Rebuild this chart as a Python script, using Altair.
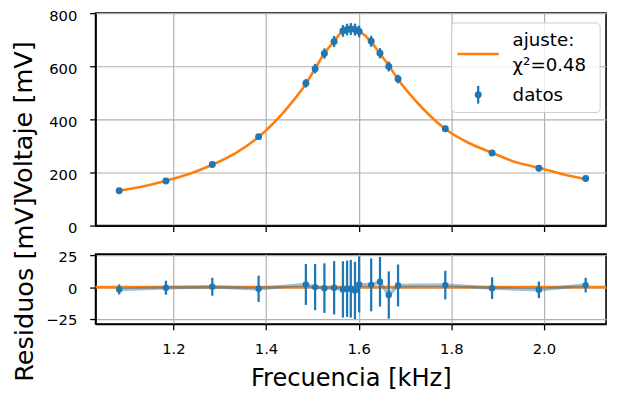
import altair as alt
import pandas as pd

# ---- data ----
freq = [1.083, 1.184, 1.284, 1.384, 1.486, 1.506, 1.526, 1.547, 1.566, 1.575,
        1.583, 1.592, 1.601, 1.627, 1.646, 1.665, 1.685, 1.787, 1.888, 1.989, 2.090]
voltage = [131, 168, 230, 335, 536, 591, 648, 693, 733, 738,
           740, 738, 731, 694, 649, 599, 552, 365, 273, 216, 177]
error = [3.9, 5.5, 7.0, 10.3, 16.0, 18.0, 19.4, 20.8, 22.0, 22.0,
         22.5, 22.4, 21.9, 20.7, 19.4, 18.5, 16.4, 11.2, 8.5, 6.5, 5.7]
residual = [-1.8, -0.5, 0.3, -1.3, 2.1, 0.0, -0.8, -0.5, -1.8, -1.3,
            -1.3, -2.6, 2.1, 1.8, 4.2, -6.2, 1.3, 1.6, -0.8, -2.1, 1.6]

fit_freq = [1.083, 1.131, 1.184, 1.237, 1.284, 1.336, 1.384, 1.442, 1.486, 1.506,
            1.526, 1.547, 1.566, 1.575, 1.583, 1.592, 1.601, 1.627, 1.646, 1.665,
            1.685, 1.739, 1.787, 1.838, 1.888, 1.941, 1.989, 2.043, 2.090]
fit_volt = [132, 146, 169, 196, 229, 275, 334, 435, 534, 591,
            649, 694, 733, 739, 741, 740, 732, 692, 647, 603,
            551, 440, 364, 311, 274, 238, 218, 192, 175]

x_ticks = [1.2, 1.4, 1.6, 1.8, 2.0]
y_ticks_top = [0, 200, 400, 600, 800]
y_ticks_res = [-25, 0, 25]
legend_fit = "ajuste:"
legend_chi = "χ²=0.48"
legend_data = "datos"

BLUE = "#1f77b4"
ORANGE = "#ff7f0e"
FONT = "DejaVu Sans"

df = pd.DataFrame({"f": freq, "v": voltage, "err": error, "res": residual})
fit_df = pd.DataFrame({"f": fit_freq, "v": fit_volt})
one = pd.DataFrame({"k": [0]})
zero_df = pd.DataFrame({"z": [0]})

W = 519
xscale = alt.Scale(domain=[1.032, 2.134], nice=False, zero=False)

x_top = alt.X("f:Q", scale=xscale,
              axis=alt.Axis(values=x_ticks, labels=False, title=None, tickSize=6))
y_top_scale = alt.Scale(domain=[0, 800], nice=False)
y_top_axis = alt.Axis(values=y_ticks_top, format="d", title="Voltaje [mV]",
                      titleFontSize=26, titlePadding=12.5, labelFontSize=15,
                      labelPadding=13, tickSize=6, labelOverlap=False, labelOffset=2)

fit_line = alt.Chart(fit_df).mark_line(color=ORANGE, strokeWidth=2.6, interpolate="monotone").encode(
    x=x_top, y=alt.Y("v:Q", scale=y_top_scale, axis=y_top_axis))

bars_top = alt.Chart(df).transform_calculate(
    lo="datum.v - datum.err", hi="datum.v + datum.err"
).mark_rule(color=BLUE, strokeWidth=2.3).encode(
    x=x_top, y=alt.Y("lo:Q", scale=y_top_scale, axis=y_top_axis), y2="hi:Q")

pts_top = alt.Chart(df).mark_circle(size=50, color=BLUE, opacity=1).encode(
    x=x_top, y=alt.Y("v:Q", scale=y_top_scale, axis=y_top_axis))

leg_box = alt.Chart(one).mark_rect(fill="white", fillOpacity=0.8, stroke="#cccccc",
                                   strokeWidth=1, cornerRadius=4).encode(
    x=alt.value(362), x2=alt.value(513), y=alt.value(10), y2=alt.value(101))
leg_line = alt.Chart(one).mark_rule(color=ORANGE, strokeWidth=2.6).encode(
    x=alt.value(368), x2=alt.value(410), y=alt.value(41.5))
leg_bar = alt.Chart(one).mark_rule(color=BLUE, strokeWidth=2.3).encode(
    x=alt.value(389), y=alt.value(74), y2=alt.value(92))
leg_pt = alt.Chart(one).mark_circle(size=50, color=BLUE, opacity=1).encode(
    x=alt.value(389), y=alt.value(83))
txt_kw = dict(font=FONT, fontSize=18.5, align="left", baseline="alphabetic", color="black")
leg_t1 = alt.Chart(one).mark_text(text=legend_fit, **txt_kw).encode(x=alt.value(424), y=alt.value(33))
leg_t2 = alt.Chart(one).mark_text(text=legend_chi, **txt_kw).encode(x=alt.value(424), y=alt.value(58.7))
leg_t3 = alt.Chart(one).mark_text(text=legend_data, **txt_kw).encode(x=alt.value(424), y=alt.value(89.7))

top = alt.layer(fit_line, bars_top, pts_top, leg_box, leg_line, leg_bar, leg_pt,
                leg_t1, leg_t2, leg_t3).properties(width=W, height=216)

# ---- residuals panel ----
x_bot = alt.X("f:Q", scale=xscale,
              axis=alt.Axis(values=x_ticks, format=".1f", title="Frecuencia [kHz]",
                            titleFontSize=24.5, titlePadding=11, labelFontSize=15,
                            labelPadding=12, tickSize=6))
y_res_scale = alt.Scale(domain=[-28.8, 25.8], nice=False, zero=False)
y_res_axis = alt.Axis(values=y_ticks_res, format="d", title="Residuos [mV]",
                      titleFontSize=26, titlePadding=8.5, labelFontSize=15,
                      labelPadding=13, tickSize=6, labelOverlap=False, labelOffset=1)

zero_line = alt.Chart(zero_df).mark_rule(color=ORANGE, strokeWidth=2.6).encode(
    y=alt.Y("z:Q", scale=y_res_scale, axis=y_res_axis))
res_line = alt.Chart(df).mark_line(color=BLUE, strokeWidth=3.5, opacity=0.45).encode(
    x=x_bot, y=alt.Y("res:Q", scale=y_res_scale, axis=y_res_axis))
bars_res = alt.Chart(df).transform_calculate(
    lo="datum.res - datum.err", hi="datum.res + datum.err"
).mark_rule(color=BLUE, strokeWidth=2.3).encode(
    x=x_bot, y=alt.Y("lo:Q", scale=y_res_scale, axis=y_res_axis), y2="hi:Q")
pts_res = alt.Chart(df).mark_circle(size=42, color=BLUE, opacity=1).encode(
    x=x_bot, y=alt.Y("res:Q", scale=y_res_scale, axis=y_res_axis))

bottom = alt.layer(zero_line, res_line, bars_res, pts_res).properties(width=W, height=71)

chart = alt.vconcat(top, bottom, spacing=29, bounds="flush").properties(
    padding={"left": 2, "top": -4, "right": 0, "bottom": 0}
).configure_axis(
    labelFont=FONT, titleFont=FONT, labelColor="black", titleColor="black",
    tickColor="black", domainColor="black", gridColor="#b0b0b0", gridWidth=1.2,
    tickWidth=1.3, domainWidth=1.6, titleFontWeight="normal", grid=True,
    labelOverlap=False
).configure_view(stroke="black", strokeWidth=1.6)

chart.save("out.html", embed_options={"renderer": "svg", "actions": False})
